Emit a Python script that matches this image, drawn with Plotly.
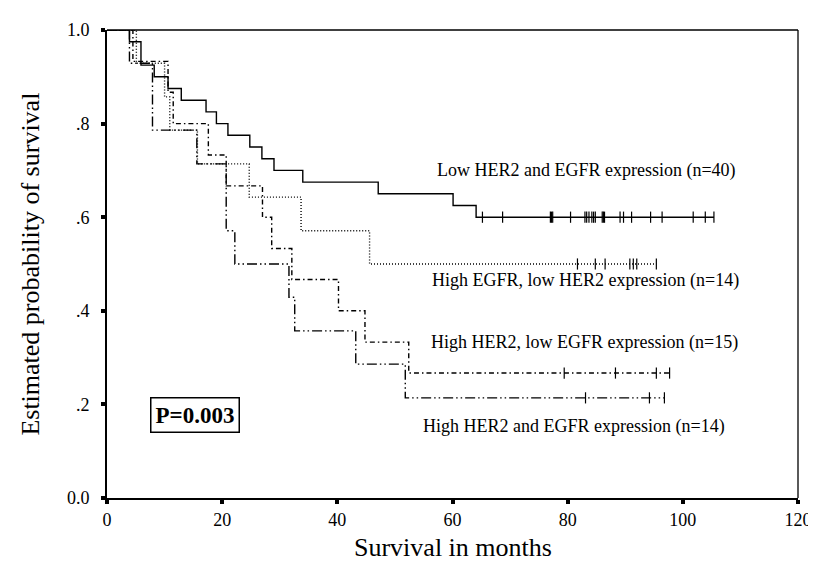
import numpy as np
import plotly.graph_objects as go

# ---- Data ----
# Low HER2 and EGFR expression (n=40)
low_t = [0, 3.9, 5.9, 8.2, 10.6, 12.9, 17.2, 19.0, 21.0, 24.8, 26.9, 29.0, 34.0, 47.1, 60.1, 64.1]
low_s = [1.0, 0.975, 0.925, 0.9, 0.875, 0.85, 0.825, 0.8, 0.775, 0.75, 0.725, 0.7, 0.675, 0.65, 0.625, 0.6]
low_end = 105.4
low_cens = [65.2, 68.7, 77.0, 77.2, 77.4, 80.5, 83.0, 83.3, 83.7, 84.2, 84.5, 84.8,
            86.0, 86.2, 86.4, 89.1, 89.7, 91.1, 94.4, 96.4, 101.8, 103.9, 105.4]

# High EGFR, low HER2 expression (n=14)
egfr_t = [0, 5.1, 10.0, 10.9, 15.7, 24.7, 33.7, 45.6]
egfr_s = [1.0, 0.929, 0.857, 0.786, 0.714, 0.643, 0.571, 0.5]
egfr_end = 95.4
egfr_cens = [81.7, 84.8, 86.5, 90.8, 91.4, 92.0, 95.4]

# High HER2, low EGFR expression (n=15)
her2_t = [0, 4.5, 10.6, 11.5, 17.6, 20.7, 27.0, 28.6, 32.1, 40.2, 44.8, 52.4]
her2_s = [1.0, 0.933, 0.867, 0.8, 0.733, 0.667, 0.6, 0.533, 0.467, 0.4, 0.333, 0.267]
her2_end = 97.7
her2_cens = [79.4, 88.3, 95.4, 97.7]

# High HER2 and EGFR expression (n=14)
both_t = [0, 3.9, 7.9, 15.6, 20.7, 22.2, 31.6, 32.6, 43.2, 51.8]
both_s = [1.0, 0.929, 0.786, 0.714, 0.571, 0.5, 0.429, 0.357, 0.286, 0.214]
both_end = 96.8
both_cens = [83.1, 94.2, 96.8]

x_ticks = [0, 20, 40, 60, 80, 100, 120]
x_tick_labels = ["0", "20", "40", "60", "80", "100", "120"]
y_ticks = [0, 0.2, 0.4, 0.6, 0.8, 1.0]
y_tick_labels = ["0.0", ".2", ".4", ".6", ".8", "1.0"]

labels = [
    ("Low HER2 and EGFR expression (n=40)", 83.3, 0.70),
    ("High EGFR, low HER2 expression (n=14)", 83.1, 0.465),
    ("High HER2, low EGFR expression (n=15)", 83.0, 0.333),
    ("High HER2 and EGFR expression (n=14)", 81.1, 0.152),
]
p_text = "P=0.003"

FONT = "Liberation Serif, Times New Roman, serif"


def surv_at(times, surv, c):
    i = int(np.searchsorted(np.array(times), c, side="right")) - 1
    return surv[i]


series = [
    (low_t, low_s, low_end, low_cens, "solid"),
    (egfr_t, egfr_s, egfr_end, egfr_cens, "1px,2px"),
    (her2_t, her2_s, her2_end, her2_cens, "5px,3px,1.5px,3px"),
    (both_t, both_s, both_end, both_cens, "10px,3px,1.5px,3px,1.5px,3px"),
]

fig = go.Figure()
for t, s, end, cens, dash in series:
    fig.add_trace(go.Scatter(
        x=list(t) + [end], y=list(s) + [s[-1]],
        mode="lines", line=dict(color="black", width=1.4, dash=dash, shape="hv"),
        showlegend=False, hoverinfo="skip", cliponaxis=False))
    fig.add_trace(go.Scatter(
        x=cens, y=[surv_at(t, s, c) for c in cens],
        mode="markers",
        marker=dict(symbol="line-ns", size=8, line=dict(color="black", width=1.2)),
        showlegend=False, hoverinfo="skip", cliponaxis=False))

annotations = []
for txt, x, y in labels:
    annotations.append(dict(x=x, y=y, xref="x", yref="y", text=txt, showarrow=False,
                            font=dict(family=FONT, size=18, color="black"),
                            xanchor="center", yanchor="middle"))
annotations.append(dict(x=15.2, y=0.177, xref="x", yref="y", text="<b>" + p_text + "</b>",
                        showarrow=False, font=dict(family=FONT, size=23, color="black"),
                        bordercolor="black", borderwidth=1.5, borderpad=4, bgcolor="white",
                        xanchor="center", yanchor="middle"))
annotations.append(dict(x=-0.112, y=0.5, xref="paper", yref="paper",
                        text="Estimated probability of survival", textangle=-90,
                        showarrow=False, font=dict(family=FONT, size=26, color="black"),
                        xanchor="center", yanchor="middle"))
annotations.append(dict(x=0.5, y=-0.106, xref="paper", yref="paper",
                        text="Survival in months", showarrow=False,
                        font=dict(family=FONT, size=26, color="black"),
                        xanchor="center", yanchor="middle"))

fig.update_layout(
    width=816, height=567,
    margin=dict(l=99, r=20, t=19, b=77),
    paper_bgcolor="white", plot_bgcolor="white",
    font=dict(family=FONT, color="black"),
    annotations=annotations,
    shapes=[
        dict(type="line", xref="paper", yref="paper", x0=0, x1=1, y0=1, y1=1,
             line=dict(color="black", width=1.3)),
        dict(type="line", xref="paper", yref="paper", x0=1, x1=1, y0=0, y1=1,
             line=dict(color="black", width=1.3)),
    ],
)
fig.update_xaxes(range=[0, 120], tickvals=x_ticks, ticktext=x_tick_labels,
                 showgrid=False, zeroline=False, showline=True, linecolor="black", linewidth=2,
                 ticks="outside", ticklen=4, tickwidth=4, tickcolor="black",
                 ticklabeloverflow="allow",
                 tickfont=dict(family=FONT, size=18, color="black"))
fig.update_yaxes(range=[0, 1], tickvals=y_ticks, ticktext=y_tick_labels,
                 showgrid=False, zeroline=False, showline=True, linecolor="black", linewidth=2,
                 ticks="outside", ticklen=4, tickwidth=4, tickcolor="black",
                 ticklabelstandoff=8, ticklabeloverflow="allow",
                 tickfont=dict(family=FONT, size=18, color="black"))

fig.write_html("out.html")
